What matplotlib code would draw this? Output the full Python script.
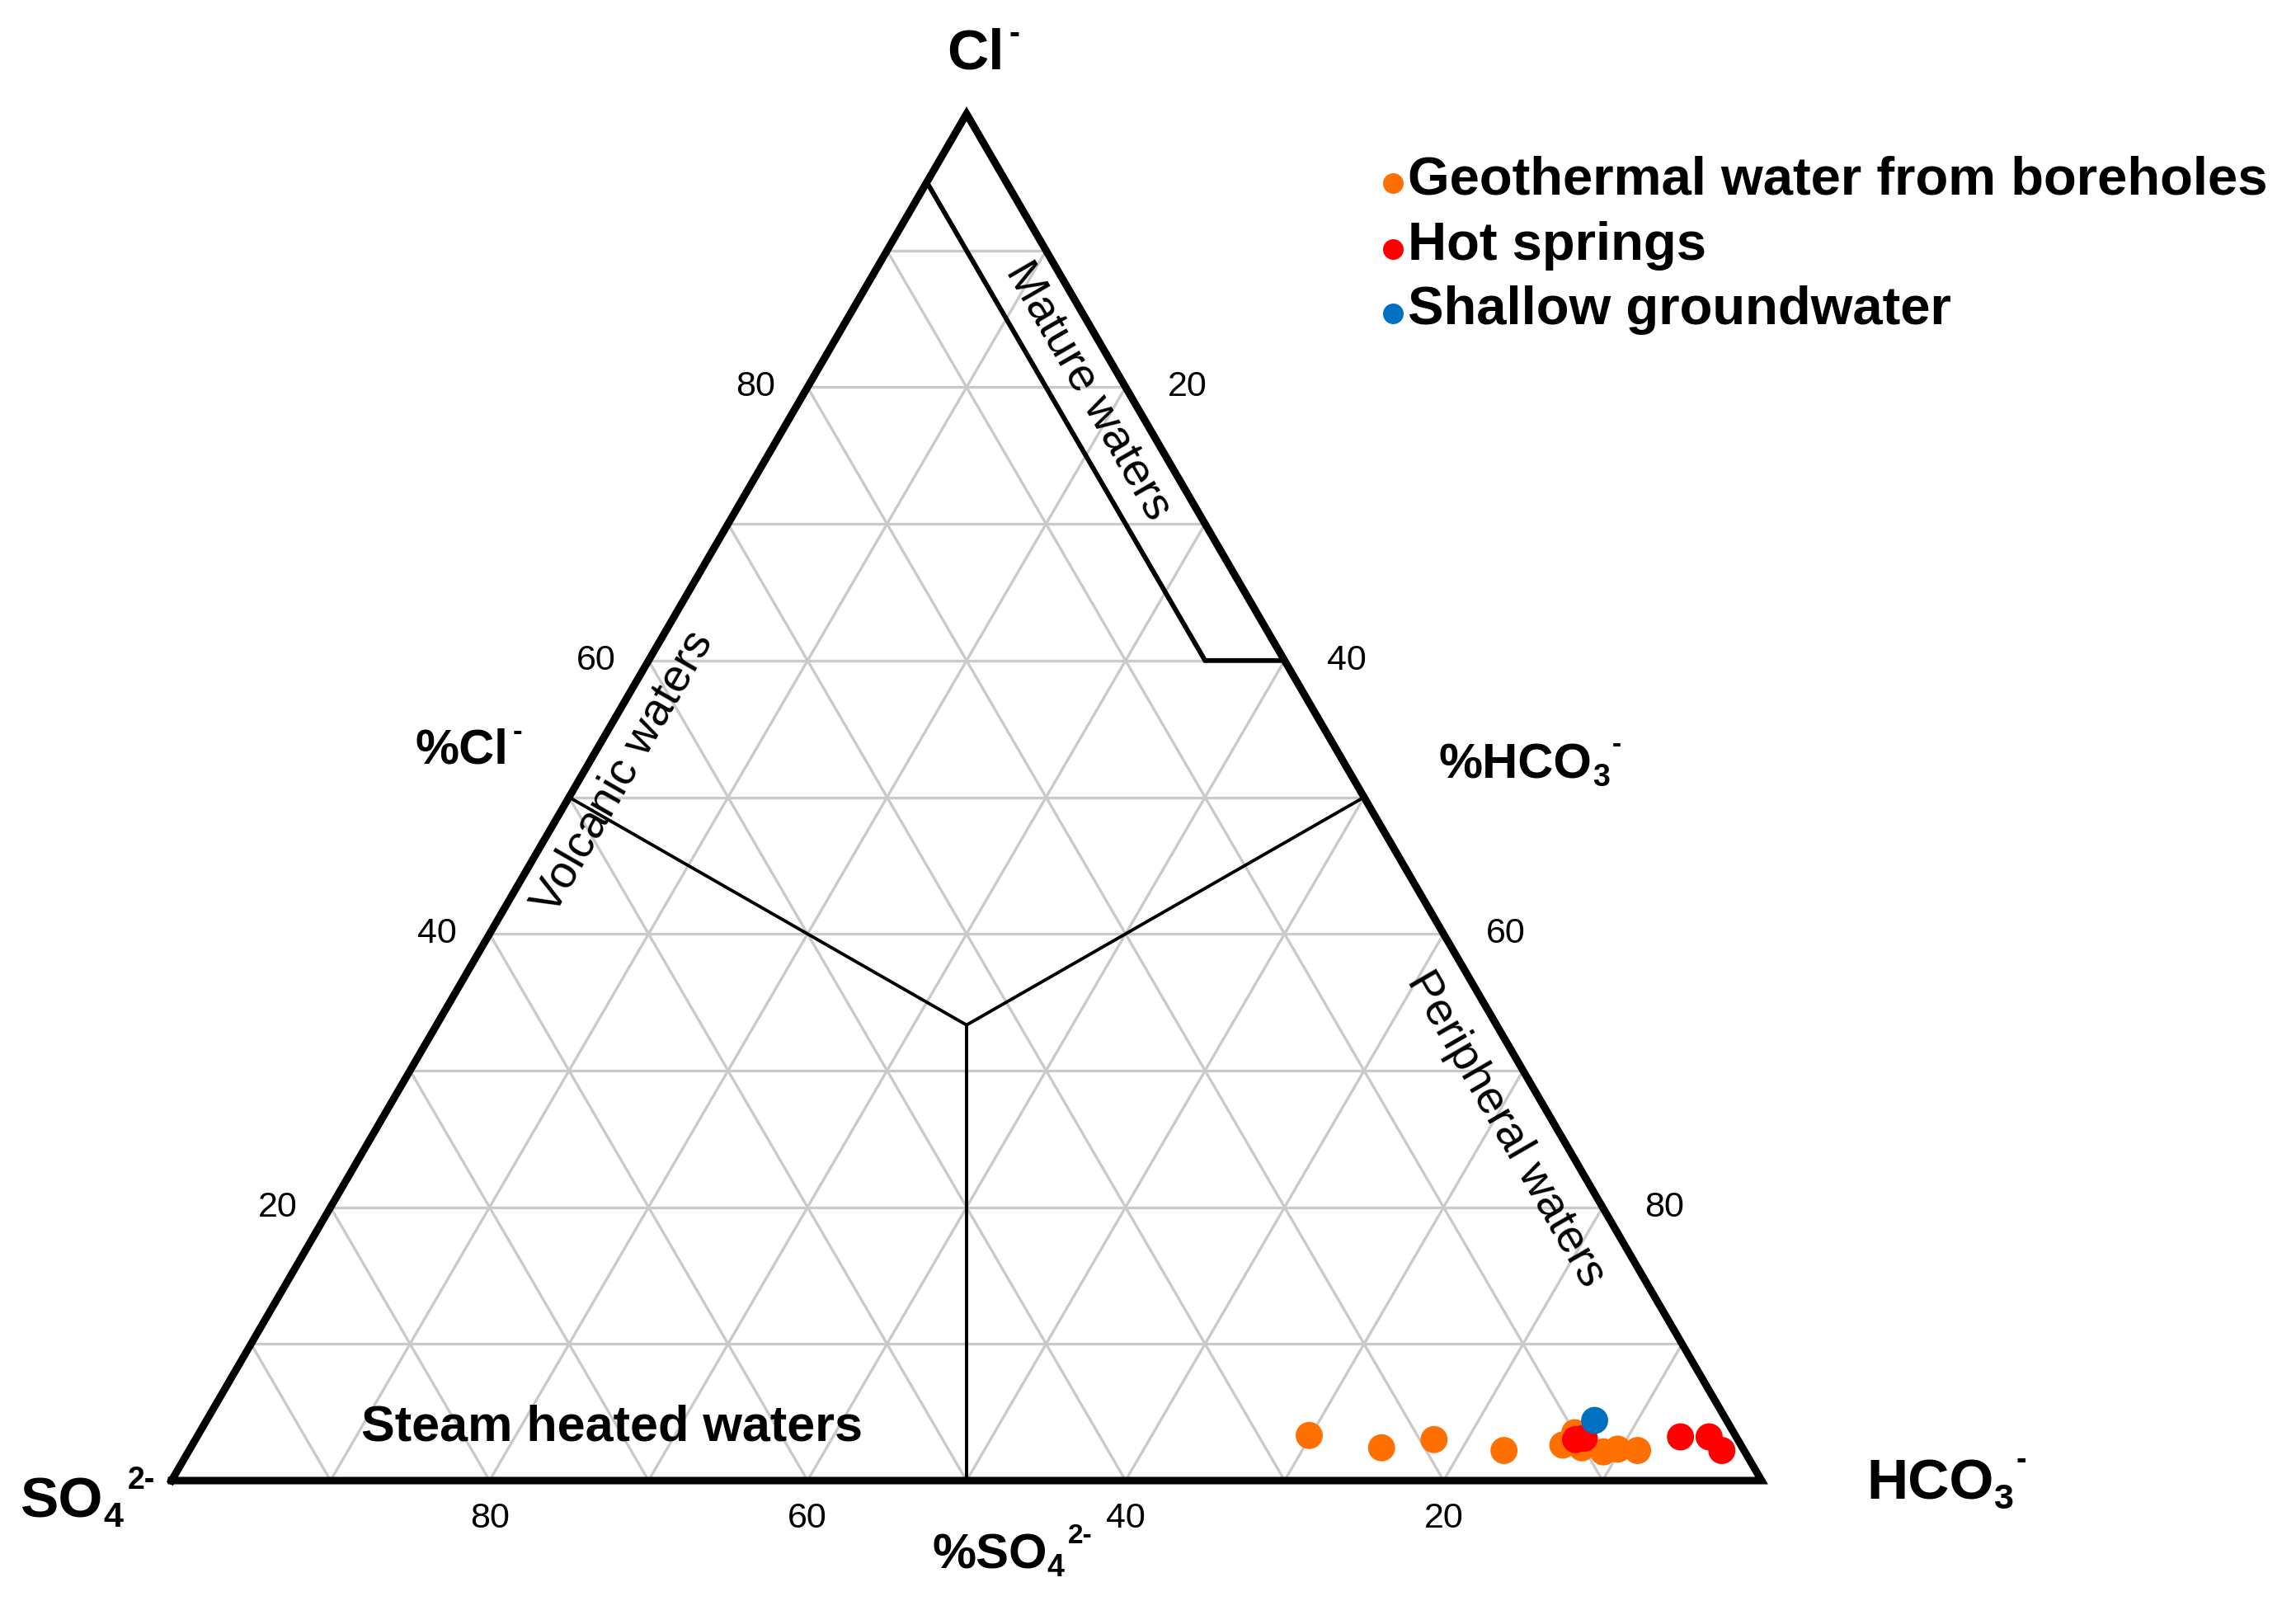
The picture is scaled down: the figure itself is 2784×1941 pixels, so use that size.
import matplotlib
matplotlib.use("Agg")
import matplotlib.pyplot as plt
import numpy as np

plt.rcParams['font.family'] = ['Liberation Sans', 'DejaVu Sans']

# ---- data (percent SO4, HCO3, Cl) ----
geo_so4 = [26.8, 22.7, 19.1, 15.1, 11.2, 10.0, 10.1, 8.9, 7.9, 6.7]
geo_hco3 = [69.9, 74.9, 77.9, 82.7, 86.2, 86.5, 87.5, 89.0, 89.8, 91.1]
geo_cl = [3.3, 2.4, 3.0, 2.2, 2.6, 3.5, 2.4, 2.1, 2.3, 2.2]

hot_so4 = [10.2, 9.6, 3.5, 1.7, 1.4]
hot_hco3 = [86.8, 87.3, 93.3, 95.1, 96.4]
hot_cl = [3.0, 3.1, 3.2, 3.2, 2.2]

shallow_so4 = [8.3]
shallow_hco3 = [87.3]
shallow_cl = [4.4]

series_names = ["Geothermal water from boreholes", "Hot springs", "Shallow groundwater"]
series_colors = ["#FF7000", "#FF0000", "#0070C0"]
tick_values = [20, 40, 60, 80]


def tern(so4, hco3, cl):
    so4 = np.asarray(so4, float); hco3 = np.asarray(hco3, float); cl = np.asarray(cl, float)
    tot = so4 + hco3 + cl
    h = 100 * hco3 / tot
    c = 100 * cl / tot
    return h + c / 2.0, c


W, H = 2784, 1941
fig = plt.figure(figsize=(W / 100, H / 100), dpi=100)
ax = fig.add_axes([0, 0, 1, 1])
ax.set_xlim(-10.788, 133.61)
ax.set_ylim(-8.811, 108.33)
ax.axis('off')

# grid
gcol = '#CACACA'
for k in range(10, 100, 10):
    for a, b in [((100 - k, 0, k), (0, 100 - k, k)),
                 ((k, 100 - k, 0), (k, 0, 100 - k)),
                 ((100 - k, k, 0), (0, k, 100 - k))]:
        x, y = tern([a[0], b[0]], [a[1], b[1]], [a[2], b[2]])
        ax.plot(x, y, color=gcol, lw=2.4, zorder=1, solid_capstyle='butt')

# outer triangle
x, y = tern([100, 0, 0, 100], [0, 100, 0, 0], [0, 0, 100, 0])
ax.plot(x, y, color='black', lw=6.5, zorder=4, solid_joinstyle='miter')

# mature waters box
x, y = tern([5, 5, 0], [0, 35, 40], [95, 60, 60])
ax.plot(x, y, color='black', lw=4.2, zorder=3, solid_joinstyle='miter')

# Y dividing lines
cx, cy = tern([1], [1], [1])
for end in [(50, 0, 50), (0, 50, 50), (50, 50, 0)]:
    ex, ey = tern([end[0]], [end[1]], [end[2]])
    ax.plot([cx[0], ex[0]], [cy[0], ey[0]], color='black', lw=2.8, zorder=3)

# data
for so4, hco3, cl, col, z in [(geo_so4, geo_hco3, geo_cl, series_colors[0], 5),
                              (hot_so4, hot_hco3, hot_cl, series_colors[1], 6),
                              (shallow_so4, shallow_hco3, shallow_cl, series_colors[2], 7)]:
    x, y = tern(so4, hco3, cl)
    ax.scatter(x, y, s=560, color=col, edgecolors='none', zorder=z)

# tick labels
tfs = 31
for v in tick_values:
    x, y = tern([100 - v], [0], [v])
    ax.text(x[0] - 3.3, y[0], str(v), fontsize=tfs, ha='center', va='center')
    x, y = tern([0], [v], [100 - v])
    ax.text(x[0] + 3.9, y[0], str(v), fontsize=tfs, ha='center', va='center')
    x, y = tern([v], [100 - v], [0])
    ax.text(x[0], y[0] - 2.8, str(v), fontsize=tfs, ha='center', va='center')

# region labels
rfs = 40
x, y = tern([2.5], [17.8], [79.7])
ax.text(x[0], y[0], "Mature waters", fontsize=rfs, rotation=-60, ha='center', va='center',
        rotation_mode='anchor', zorder=4)
x, y = tern([45.7], [2.5], [51.8])
ax.text(x[0], y[0], "Volcanic waters", fontsize=rfs, rotation=60, ha='center', va='center',
        rotation_mode='anchor', zorder=4)
x, y = tern([3.25], [71.05], [25.7])
ax.text(x[0], y[0], "Peripheral waters", fontsize=rfs, rotation=-60, ha='center', va='center',
        rotation_mode='anchor', zorder=4)
ax.text(27.7, 3.86, "Steam heated waters", fontsize=44, fontweight='bold', ha='center', va='center', zorder=4)

# composite labels with sub/superscripts, placed piece by piece (figure pixels)
renderer = fig.canvas.get_renderer()


def parts_label(px, py, parts):
    x = px
    for s, size, raise_px, gap in parts:
        x += gap
        t = fig.text(x / W, 1 - (py - raise_px) / H, s, fontsize=size, fontweight='bold',
                     ha='left', va='baseline')
        x += t.get_window_extent(renderer=renderer).width


parts_label(1148, 83, [("Cl", 50, 0, 0), ("-", 28, 31, 6)])
parts_label(25, 1840, [("SO", 50, 0, 0), ("4", 31, -11, 0), ("2-", 27, 35, 5)])
parts_label(2263, 1817, [("HCO", 50, 0, 0), ("3", 31, -12, 0), ("-", 27, 36, 3)])
parts_label(503, 925, [("%Cl", 43, 0, 0), ("-", 25, 28, 6)])
parts_label(1745, 943, [("%HCO", 43, 0, 0), ("3", 27, -10, 0), ("-", 24, 31, 3)])
parts_label(1130, 1902, [("%SO", 43, 0, 0), ("4", 27, -9, 0), ("2-", 24, 31, 4)])

# legend
leg_y = [222, 302, 380]
for name, col, ly in zip(series_names, series_colors, leg_y):
    fig.lines.append(plt.Line2D([1689 / W], [1 - ly / H], marker='o', markersize=18, color=col,
                                markeredgewidth=0, linestyle='none', transform=fig.transFigure))
    fig.text(1707 / W, 1 - (ly - 4) / H, name, fontsize=47, fontweight='bold', ha='left', va='center')

fig.savefig('out.png', dpi=100, facecolor='white')
